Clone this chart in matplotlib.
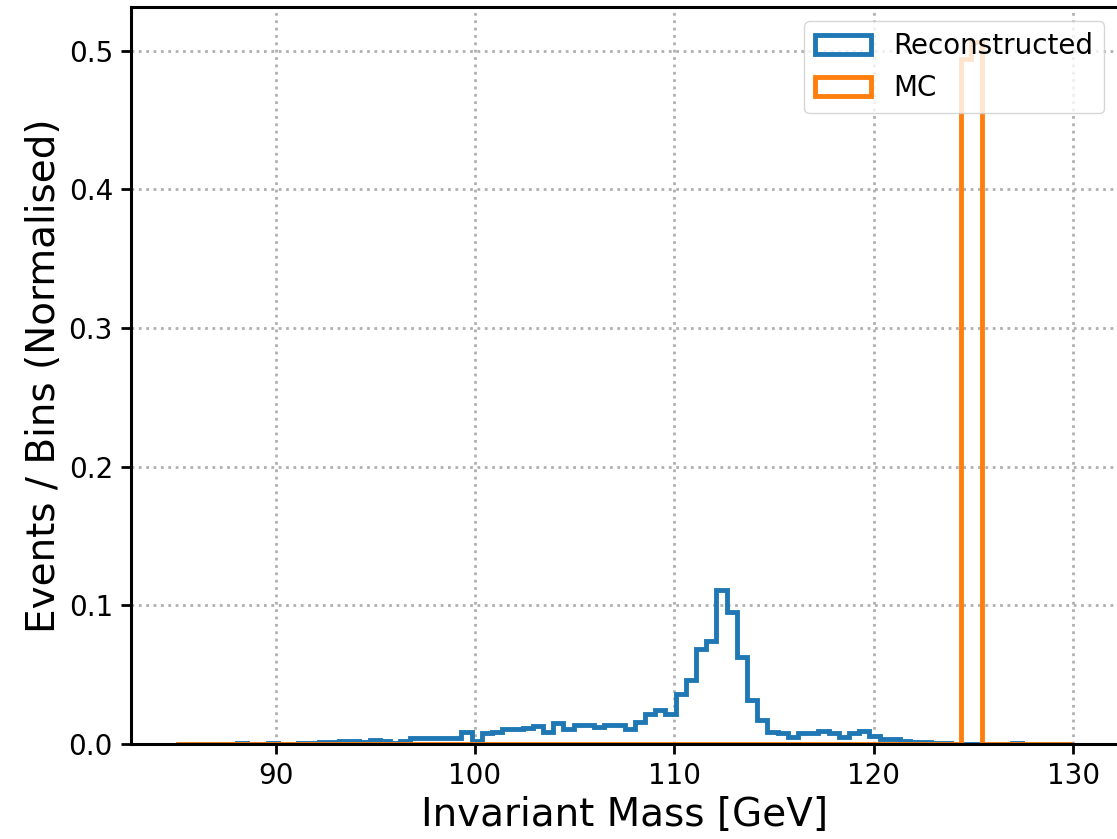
import numpy as np
import matplotlib
matplotlib.use("Agg")
import matplotlib.pyplot as plt

# ---- data ----
x_min, x_max, n_bins = 85.0, 130.0, 88
reco_values = [
    0, 0, 0, 0, 0, 0, 0.001, 0, 0, 0.001,
    0, 0, 0.001, 0.001, 0.0017, 0.0017, 0.002, 0.002, 0.0015, 0.0027,
    0.002, 0.001, 0.002, 0.0046, 0.0046, 0.004, 0.004, 0.004, 0.0086, 0.002,
    0.0076, 0.0088, 0.011, 0.011, 0.0115, 0.013, 0.0085, 0.0155, 0.011, 0.0135,
    0.0135, 0.012, 0.0135, 0.0135, 0.011, 0.016, 0.0215, 0.0245, 0.022, 0.036,
    0.046, 0.0685, 0.074, 0.111, 0.095, 0.063, 0.032, 0.017, 0.009, 0.0076,
    0.005, 0.008, 0.008, 0.0095, 0.008, 0.005, 0.008, 0.0095, 0.006, 0.0035,
    0.0035, 0.0023, 0.0015, 0.0015, 0.001, 0.001, 0, 0, 0, 0,
    0, 0, 0.001, 0, 0, 0, 0, 0,
]
mc_values = [0.0] * 88
mc_values[77] = 0.494
mc_values[78] = 0.506

xticks = [90, 100, 110, 120, 130]
yticks = [0.0, 0.1, 0.2, 0.3, 0.4, 0.5]

edges = np.linspace(x_min, x_max, n_bins + 1)
centers = 0.5 * (edges[:-1] + edges[1:])

fig = plt.figure(figsize=(11.17, 8.39), dpi=100)
ax = fig.add_axes([0.1173, 0.1132, 0.8838, 0.8781])

ax.hist(centers, bins=edges, weights=reco_values, histtype="step",
        linewidth=3.5, color="#1f77b4", label="Reconstructed")
ax.hist(centers, bins=edges, weights=mc_values, histtype="step",
        linewidth=3.5, color="#ff7f0e", label="MC")

ax.set_xticks(xticks)
ax.set_yticks(yticks)
ax.set_yticklabels([f"{v:.1f}" for v in yticks])
ax.tick_params(axis="both", labelsize=20, width=2, length=7, pad=6)
for s in ax.spines.values():
    s.set_linewidth(2.2)

ax.grid(True, linestyle=":", color="#b0b0b0", linewidth=2)
ax.set_axisbelow(True)

ax.set_xlabel("Invariant Mass [GeV]", fontsize=28)
ax.set_ylabel("Events / Bins (Normalised)", fontsize=28)

ax.legend(loc="upper right", fontsize=20)

fig.savefig("out.png", dpi=100)
